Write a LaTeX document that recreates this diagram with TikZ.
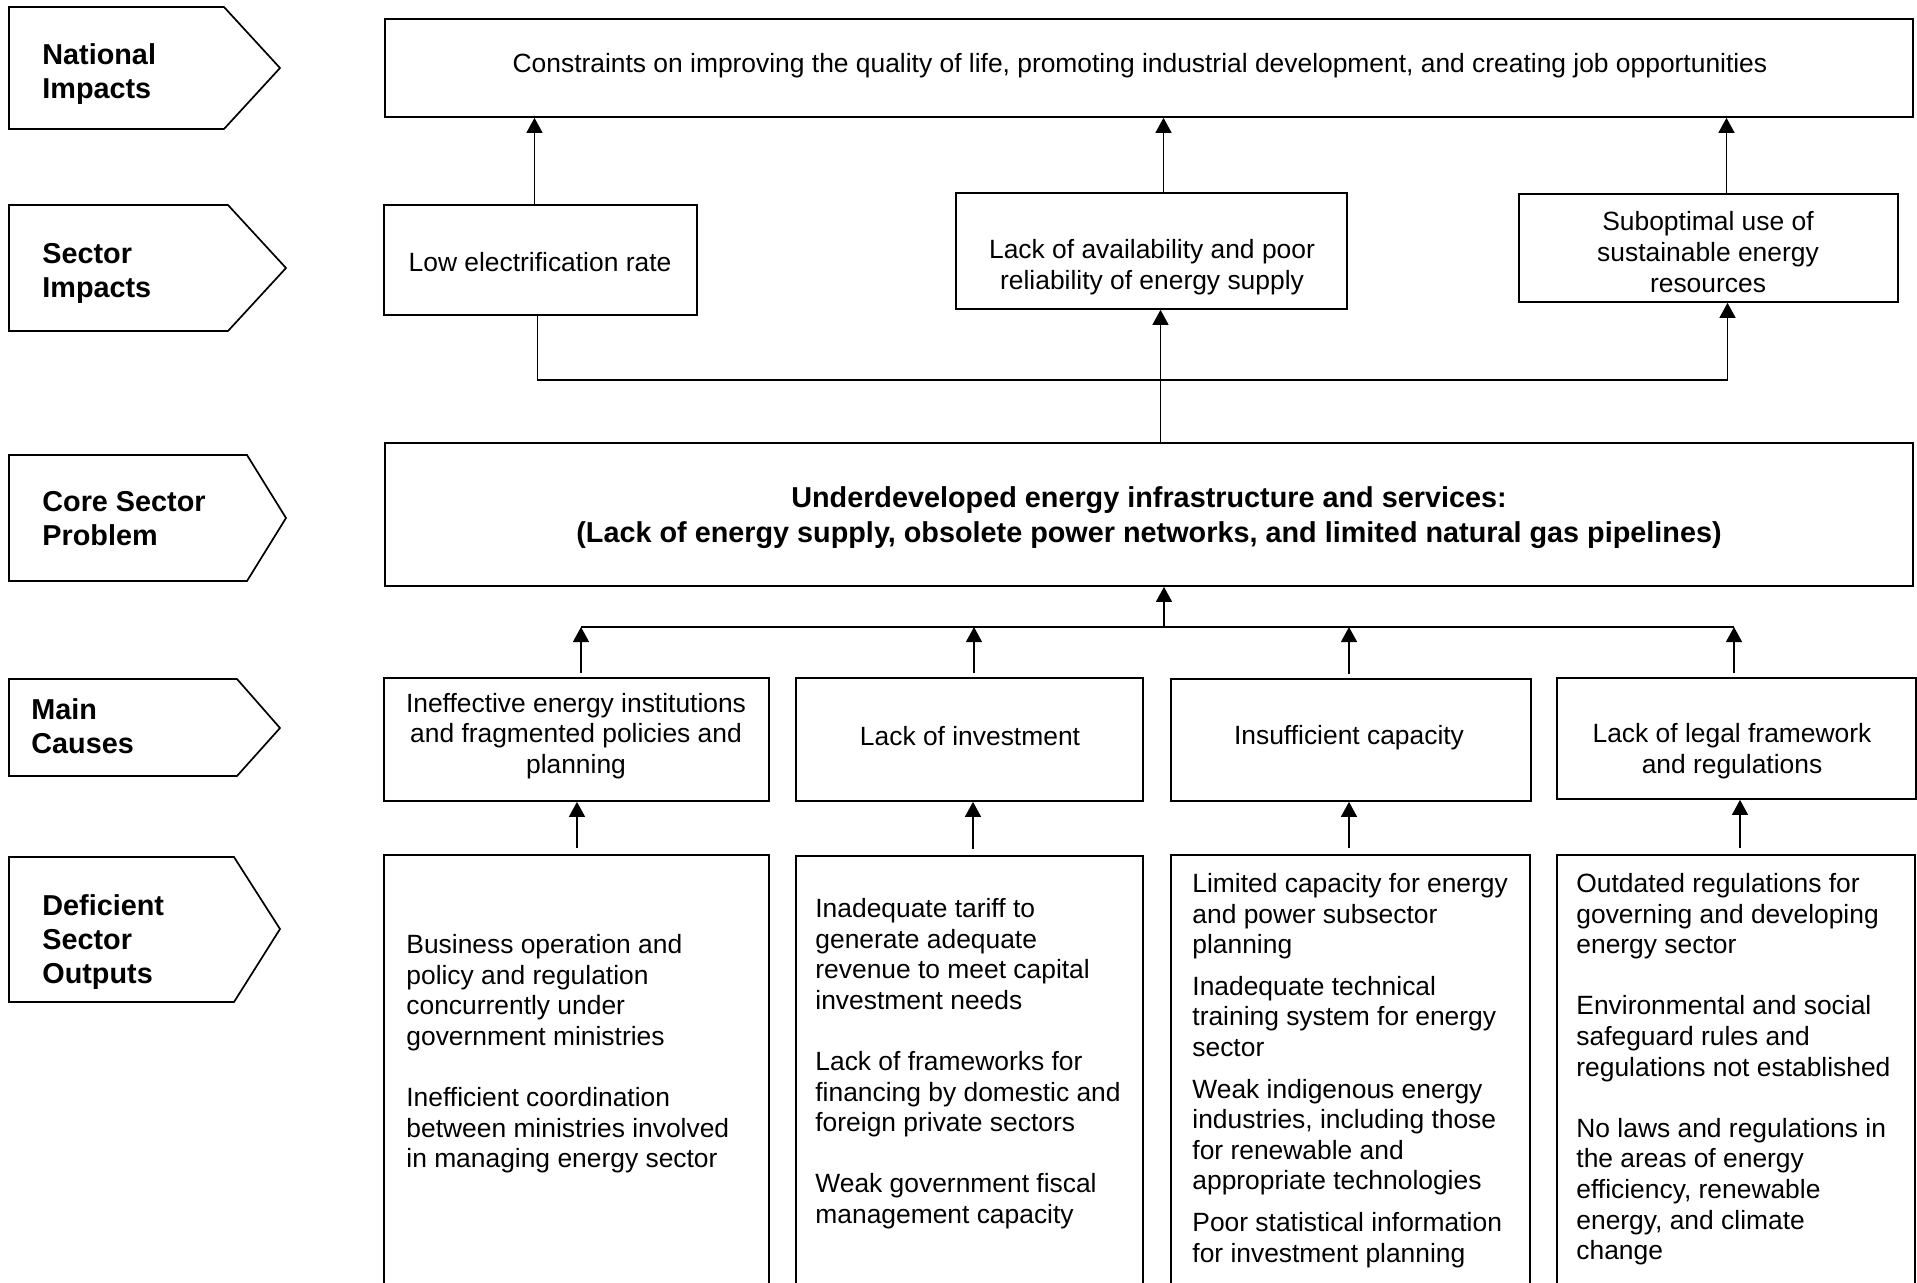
\documentclass[tikz,border=0pt]{standalone}
\usepackage{fontspec}
\setmainfont{Liberation Sans}
\usetikzlibrary{arrows.meta,calc,fit}
\tikzset{
  boxr/.style={draw, line width=0.85pt, inner sep=0pt},
  txt/.style={font=\fontsize{13.2}{15.3}\selectfont, align=center, inner sep=0pt},
  otxt/.style={font=\fontsize{13.2}{15.3}\selectfont, align=left, inner sep=0pt, anchor=north west},
  lab/.style={font=\bfseries\fontsize{14.4}{17}\selectfont, align=left, inner sep=0pt, anchor=west},
  coretxt/.style={font=\bfseries\fontsize{14.4}{17.5}\selectfont, align=center, inner sep=0pt},
  tag/.style={draw, line width=0.85pt, line join=miter},
  conn/.style={line width=0.7pt},
  arr/.style={line width=0.7pt, -{Triangle[length=7.5pt,width=8pt]}}
}
\begin{document}
\begin{tikzpicture}[x=0.5pt,y=-0.5pt]
\useasboundingbox (0,0) rectangle (1917,1282);
\clip (0,0) rectangle (1917,1282);
\fill[white] (0,0) rectangle (1917,1282);

% left tags
\draw[tag] (9,7) -- (224,7) -- (280,68) -- (224,129) -- (9,129) -- cycle;
\draw[tag] (9,205) -- (228,205) -- (286,268) -- (228,331) -- (9,331) -- cycle;
\draw[tag] (9,455) -- (247,455) -- (286,518) -- (247,581) -- (9,581) -- cycle;
\draw[tag] (9,679) -- (237,679) -- (280,728) -- (237,776) -- (9,776) -- cycle;
\draw[tag] (9,857) -- (234,857) -- (280,929) -- (234,1002) -- (9,1002) -- cycle;
\node[lab] (l1) at (42,74) {National\\Impacts};
\node[lab] (l2) at (42,273) {Sector\\Impacts};
\node[lab] (l3) at (42,519) {Core Sector\\Problem};
\node[lab] (l4) at (31,726) {Main\\Causes};
\node[lab] (l5) at (42,942) {Deficient\\Sector\\Outputs};

% boxes
\node[boxr, fit={(385,19) (1913,117)}] (nat) {};
\node[boxr, fit={(384,205) (697,315)}] (lowel) {};
\node[boxr, fit={(956,193) (1347,309)}] (mid) {};
\node[boxr, fit={(1519,194) (1898,302)}] (sub) {};
\node[boxr, fit={(385,443) (1913,586)}] (core) {};
\node[boxr, fit={(384,678) (769,801)}] (c1) {};
\node[boxr, fit={(796,678) (1143,801)}] (c2) {};
\node[boxr, fit={(1171,679) (1531,801)}] (c3) {};
\node[boxr, fit={(1557,678) (1916,799)}] (c4) {};
\node[boxr, fit={(384,855) (769,1400)}] (o1) {};
\node[boxr, fit={(796,856) (1143,1400)}] (o2) {};
\node[boxr, fit={(1171,855) (1530,1400)}] (o3) {};
\node[boxr, fit={(1557,855) (1915,1400)}] (o4) {};

% texts
\node[txt] (tnat) at (1140,66) {Constraints on improving the quality of life, promoting industrial development, and creating job opportunities};
\node[txt] (tlow) at (540,262) {Low electrification rate};
\node[txt] (tmid) at (1152,267) {Lack of availability and poor\\reliability of energy supply};
\node[txt] (tsub) at (1708,252) {Suboptimal use of\\sustainable energy\\resources};
\node[coretxt] (tcore) at (1149,518) {Underdeveloped energy infrastructure and services:\\(Lack of energy supply, obsolete power networks, and limited natural gas pipelines)};
\node[txt] (tc1) at (576,736) {Ineffective energy institutions\\and fragmented policies and\\planning};
\node[txt] (tc2) at (970,736) {Lack of investment};
\node[txt] (tc3) at (1349,738) {Insufficient capacity};
\node[txt] (tc4) at (1732,751) {Lack of legal framework\\and regulations};

\node[otxt] (to1) at (406,934) {Business operation and\\policy and regulation\\concurrently under\\government ministries\\[15.3pt]Inefficient coordination\\between ministries involved\\in managing energy sector};
\node[otxt] (to2) at (815,898) {Inadequate tariff to\\generate adequate\\revenue to meet capital\\investment needs\\[15.3pt]Lack of frameworks for\\financing by domestic and\\foreign private sectors\\[15.3pt]Weak government fiscal\\management capacity};
\node[otxt] (to3) at (1192,873) {Limited capacity for energy\\and power subsector\\planning\\[5.5pt]Inadequate technical\\training system for energy\\sector\\[5.5pt]Weak indigenous energy\\industries, including those\\for renewable and\\appropriate technologies\\[5.5pt]Poor statistical information\\for investment planning};
\node[otxt] (to4) at (1576,873) {Outdated regulations for\\governing and developing\\energy sector\\[15.3pt]Environmental and social\\safeguard rules and\\regulations not established\\[15.3pt]No laws and regulations in\\the areas of energy\\efficiency, renewable\\energy, and climate\\change};

% sector impacts -> national
\coordinate (a1) at ($(lowel.north)+(-6,0)$);
\coordinate (a2) at ($(mid.north)+(12,0)$);
\coordinate (a3) at ($(sub.north)+(18,0)$);
\draw[arr] (a1) -- (a1 |- nat.south);
\draw[arr] (a2) -- (a2 |- nat.south);
\draw[arr] (a3) -- (a3 |- nat.south);

% core -> sector impacts
\coordinate (b0) at ($(lowel.south)+(-3,0)$);
\coordinate (bt) at ($(sub.south)+(19,0)$);
\coordinate (bm) at ($(mid.south)+(9,0)$);
\draw[arr] (b0) |- ($(bt)+(0,77)$) -- (bt);
\draw[arr] (bm |- core.north) -- (bm);

% causes -> core
\coordinate (bus2) at (1164,627);
\draw[arr] (bus2) -- (bus2 |- core.south);
\coordinate (k1) at ($(c1.north)+(4.5,0)$);
\coordinate (k2) at ($(c2.north)+(4.5,0)$);
\coordinate (k3) at ($(c3.north)+(-2,0)$);
\coordinate (k4) at ($(c4.north)+(-2.5,0)$);
\draw[conn] (k1 |- bus2) -- (k4 |- bus2);
\draw[arr, shorten <=2pt] (k1) -- (k1 |- bus2);
\draw[arr, shorten <=2pt] (k2) -- (k2 |- bus2);
\draw[arr, shorten <=2pt] (k3) -- (k3 |- bus2);
\draw[arr, shorten <=2pt] (k4) -- (k4 |- bus2);

% outputs -> causes
\coordinate (m1) at ($(o1.north)+(0.5,0)$);
\coordinate (m2) at ($(o2.north)+(3.5,0)$);
\coordinate (m3) at ($(o3.north)+(-1.5,0)$);
\coordinate (m4) at ($(o4.north)+(4,0)$);
\draw[arr, shorten <=3pt] (m1) -- (m1 |- c1.south);
\draw[arr, shorten <=3pt] (m2) -- (m2 |- c2.south);
\draw[arr, shorten <=3pt] (m3) -- (m3 |- c3.south);
\draw[arr, shorten <=3pt] (m4) -- (m4 |- c4.south);
\end{tikzpicture}
\end{document}
